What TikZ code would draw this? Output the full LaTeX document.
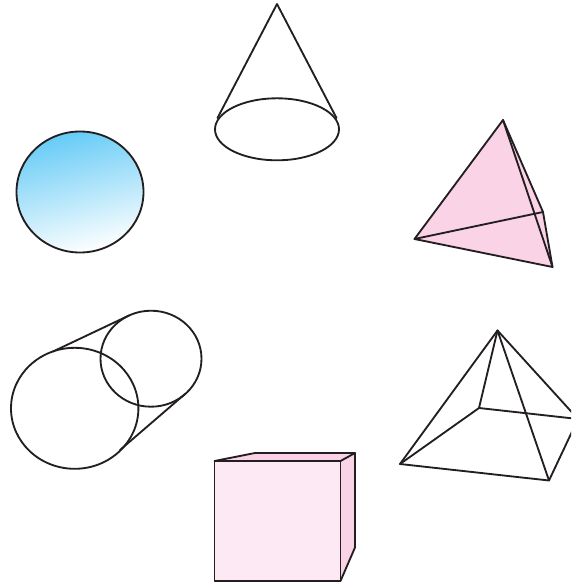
\documentclass[tikz,border=0pt]{standalone}
\definecolor{inkline}{HTML}{231F20}
\definecolor{pinkA}{HTML}{FAD3E7}
\definecolor{pinkB}{HTML}{FDE9F3}
\definecolor{skyA}{HTML}{65CBF6}
\tikzset{edge/.style={draw=inkline,line width=1.85pt,line join=round,line cap=round}}
\begin{document}
\begin{tikzpicture}[x=1pt,y=-1pt]
\useasboundingbox (0,0) rectangle (571,584);
\clip (0,0) rectangle (571,584);
% sphere
\begin{scope}
\clip (80,192) ellipse [x radius=63.5,y radius=60.5];
\begin{scope}[transform canvas={rotate around={14:(80,192)}}]
\shade[top color=skyA,bottom color=white] (-20,131) rectangle (180,253);
\end{scope}
\end{scope}
\draw[edge] (80,192) ellipse [x radius=63.5,y radius=60.5];
% cone
\coordinate (ca) at (277,4);
\coordinate (cl) at (217.5,118);
\coordinate (cr) at (336.5,118);
\draw[edge] (cl) -- (ca) -- (cr);
\draw[edge] (277,129.3) ellipse [x radius=62,y radius=31];
% tetrahedron
\coordinate (ta) at (503,120);
\coordinate (tl) at (414.5,239);
\coordinate (tb) at (552.5,267);
\coordinate (tk) at (543,212);
\fill[pinkA] (ta) -- (tk) -- (tb) -- (tl) -- cycle;
\draw[edge] (ta) -- (tl) -- (tb) -- cycle;
\draw[edge] (tl) -- (tk);
\draw[edge] (ta) -- (tk) -- (tb);
% cylinder
\draw[edge] (74.7,408.3) ellipse [x radius=63.7,y radius=60.5];
\draw[edge] (151,358.7) ellipse [x radius=50.5,y radius=48];
\coordinate (c1) at (53,351.5);
\coordinate (c2) at (129,315.5);
\coordinate (c3) at (120,450);
\coordinate (c4) at (185,394);
\draw[edge] (c1) -- (c2);
\draw[edge] (c3) -- (c4);
% pyramid
\coordinate (pa) at (497.5,330.5);
\coordinate (pl) at (400,464);
\coordinate (pf) at (549,480.5);
\coordinate (pk) at (479,408);
\coordinate (pr) at (578,419);
\draw[edge] (pa) -- (pl) -- (pf) -- (pr) -- cycle;
\draw[edge] (pa) -- (pk);
\draw[edge] (pl) -- (pk) -- (pr);
\draw[edge] (pa) -- (pf);
% cube
\coordinate (f1) at (214.5,461);
\coordinate (f2) at (340.5,461);
\coordinate (f3) at (340.5,581);
\coordinate (f4) at (214.5,581);
\coordinate (b1) at (255,453);
\coordinate (b2) at (355,453);
\coordinate (b3) at (355,547.5);
\fill[pinkA] (f1) -- (b1) -- (b2) -- (f2) -- cycle;
\fill[pinkA] (f2) -- (b2) -- (b3) -- (f3) -- cycle;
\fill[pinkB] (f1) rectangle (f3);
\draw[edge] (f1) -- (f2) -- (f3) -- (f4) -- cycle;
\draw[edge] (f1) -- (b1) -- (b2) -- (f2);
\draw[edge] (b2) -- (b3) -- (f3);
\end{tikzpicture}
\end{document}
